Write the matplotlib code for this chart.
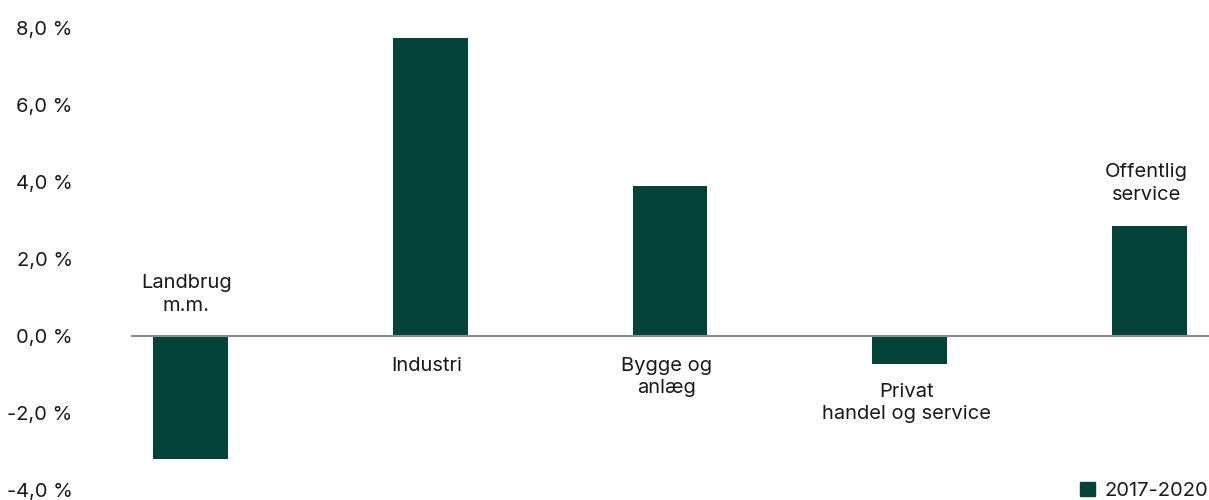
import matplotlib
matplotlib.use("Agg")
import matplotlib.pyplot as plt
from matplotlib.patches import Patch

categories = ["Landbrug\nm.m.", "Industri", "Bygge og\nanlæg", "Privat\nhandel og service", "Offentlig\nservice"]
values = [-3.2, 7.75, 3.9, -0.73, 2.85]
label_y = [1.08, -0.78, -1.06, -1.75, 3.96]
yticks = [-4, -2, 0, 2, 4, 6, 8]
series_name = "2017-2020"

BAR_COLOR = "#03433A"
TEXT_COLOR = "#1a1a1a"

plt.rcParams["font.family"] = ["Inter", "DejaVu Sans"]

fig = plt.figure(figsize=(12.09, 5.0), dpi=100)
ax = fig.add_axes([131 / 1209, 10 / 500, 1078 / 1209, 462 / 500])

x = list(range(len(values)))
ax.bar(x, values, width=0.3125, color=BAR_COLOR, zorder=2)
ax.axhline(0, color="#8c8c8c", linewidth=1.5, zorder=3)

for xi, lab, ly in zip(x, categories, label_y):
    ax.text(xi - 0.015, ly, lab, ha="center", va="center", fontsize=14.5,
            color=TEXT_COLOR, linespacing=1.3)

ax.set_xlim(-0.246, 4.246)
ax.set_ylim(-4, 8)
ax.set_yticks(yticks)
ax.set_yticklabels([f"{v:.1f} %".replace(".", ",") for v in yticks],
                   fontsize=14.5, color=TEXT_COLOR)
ax.tick_params(axis="y", length=0, pad=42)
ax.set_xticks([])
for s in ax.spines.values():
    s.set_visible(False)

fig.legend(handles=[Patch(color=BAR_COLOR, label=series_name)],
           loc="lower right", bbox_to_anchor=(1.0145, -0.037), frameon=False,
           fontsize=14.5, handlelength=0.7, handleheight=0.7, handletextpad=0.5,
           labelcolor=TEXT_COLOR)

plt.savefig("out.png", dpi=100)
plt.close(fig)
